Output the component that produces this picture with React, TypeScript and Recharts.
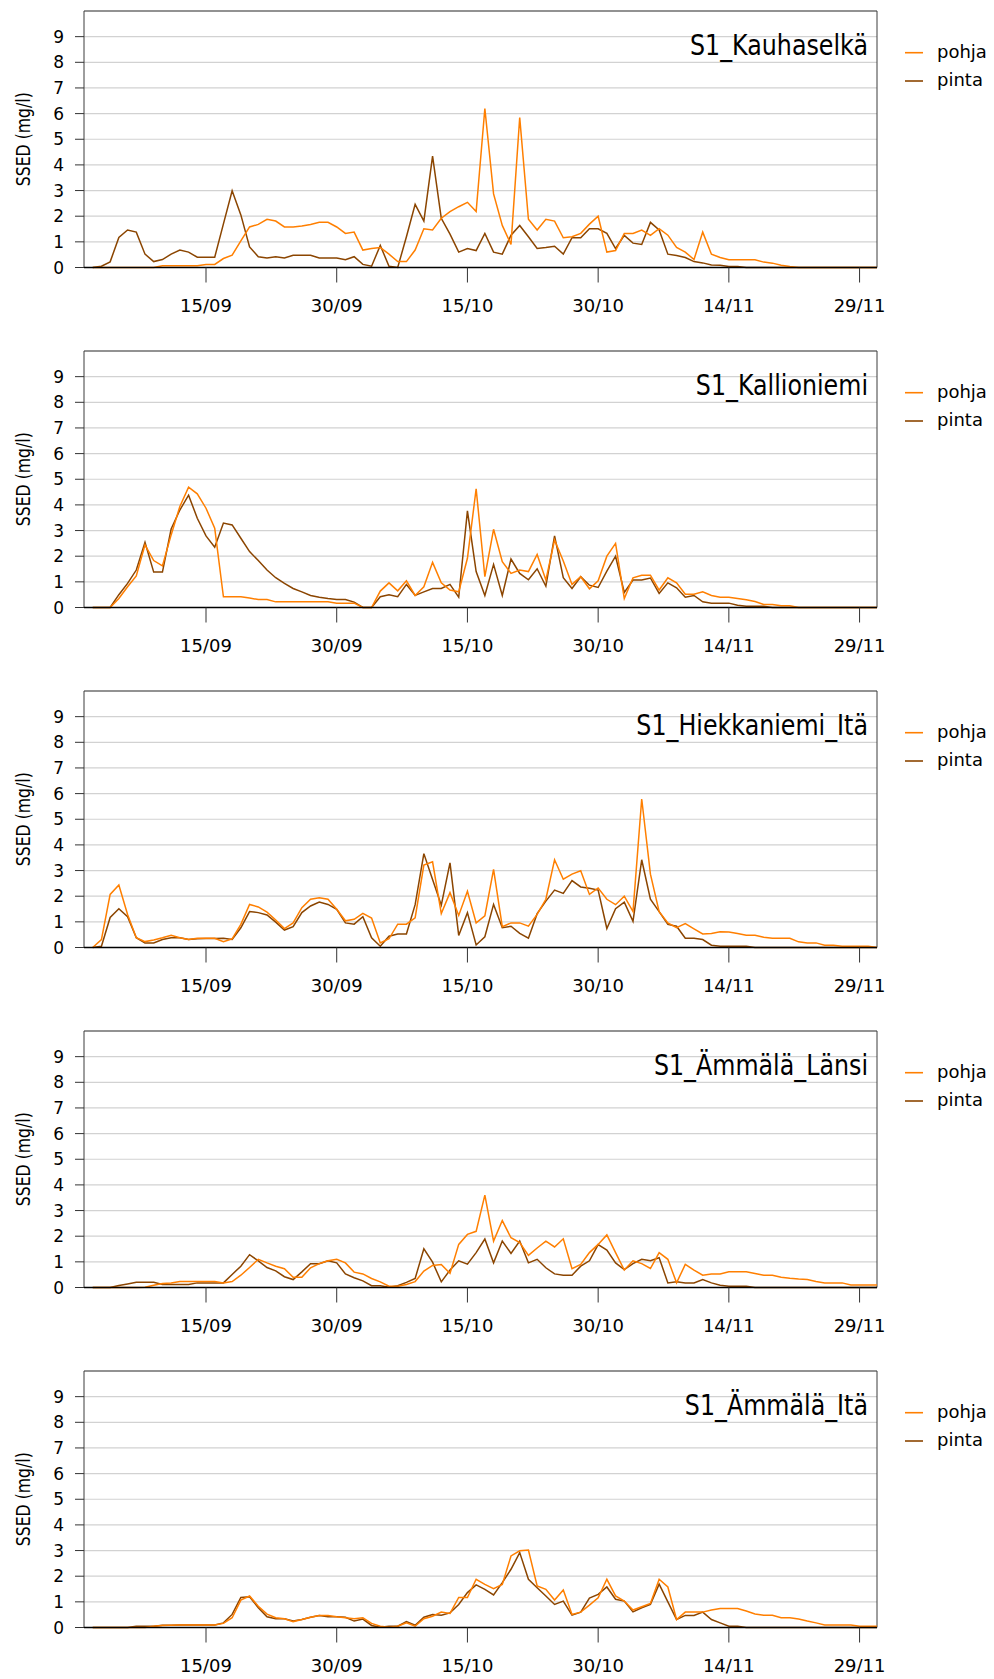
import { LineChart, Line, XAxis, YAxis, CartesianGrid, ReferenceArea, Legend } from 'recharts'

// x = päivä laskettuna 1.9. alkaen (1 = 2.9. ... 91 = 1.12.), yksi havainto per päivä
const days = Array.from({ length: 91 }, (_, i) => i + 1)
const tickDays = [14, 29, 44, 59, 74, 89]
const tickLabels = ['15/09', '30/09', '15/10', '30/10', '14/11', '29/11']
const yTicks = [0, 1, 2, 3, 4, 5, 6, 7, 8, 9]

const stations = ['S1_Kauhaselkä', 'S1_Kallioniemi', 'S1_Hiekkaniemi_Itä', 'S1_Ämmälä_Länsi', 'S1_Ämmälä_Itä']

const kauhaselkaPohja = [
  0, 0, 0, 0, 0, 0, 0, 0, 0.07, 0.07,
  0.07, 0.07, 0.07, 0.12, 0.12, 0.35, 0.48, 1.04, 1.58, 1.68,
  1.88, 1.81, 1.58, 1.58, 1.62, 1.68, 1.76, 1.76, 1.58, 1.33,
  1.38, 0.68, 0.74, 0.78, 0.52, 0.23, 0.23, 0.68, 1.51, 1.46,
  1.92, 2.18, 2.37, 2.54, 2.18, 6.2, 2.87, 1.64, 0.9, 5.85,
  1.88, 1.46, 1.88, 1.81, 1.16, 1.2, 1.33, 1.69, 2.0, 0.6,
  0.66, 1.33, 1.33, 1.46, 1.25, 1.51, 1.26, 0.78, 0.6, 0.31,
  1.38, 0.52, 0.39, 0.3, 0.3, 0.3, 0.3, 0.21, 0.17, 0.09,
  0.04, 0, 0, 0, 0, 0, 0, 0, 0, 0, 0,
]
const kauhaselkaPinta = [
  0, 0.05, 0.22, 1.17, 1.46, 1.38, 0.52, 0.23, 0.31, 0.52,
  0.68, 0.6, 0.4, 0.4, 0.4, 1.7, 2.99, 2.05, 0.8, 0.42,
  0.37, 0.42, 0.37, 0.48, 0.48, 0.48, 0.37, 0.37, 0.37, 0.3,
  0.42, 0.12, 0.05, 0.86, 0.05, 0, 1.2, 2.46, 1.81, 4.34,
  1.92, 1.3, 0.6, 0.74, 0.66, 1.33, 0.6, 0.52, 1.26, 1.64,
  1.2, 0.74, 0.78, 0.83, 0.52, 1.16, 1.16, 1.51, 1.51, 1.33,
  0.74, 1.25, 0.95, 0.9, 1.76, 1.46, 0.52, 0.47, 0.39, 0.23,
  0.18, 0.1, 0.09, 0.04, 0.04, 0, 0, 0, 0, 0,
  0, 0, 0, 0, 0, 0, 0, 0, 0, 0, 0,
]

const kallioniemiPohja = [
  0, 0, 0, 0.35, 0.81, 1.23, 2.44, 1.83, 1.62, 2.83,
  3.94, 4.69, 4.43, 3.87, 3.09, 0.42, 0.42, 0.42, 0.37, 0.31,
  0.31, 0.22, 0.22, 0.22, 0.22, 0.22, 0.22, 0.22, 0.17, 0.17,
  0.17, 0, 0, 0.64, 0.96, 0.65, 1.04, 0.47, 0.81, 1.76,
  0.96, 0.68, 0.61, 1.92, 4.63, 1.2, 3.05, 1.79, 1.33, 1.46,
  1.4, 2.07, 1.07, 2.63, 1.81, 0.9, 1.2, 0.73, 1.04, 2.0,
  2.5, 0.35, 1.16, 1.26, 1.26, 0.68, 1.16, 0.96, 0.52, 0.52,
  0.61, 0.47, 0.4, 0.4, 0.35, 0.3, 0.23, 0.12, 0.12, 0.07,
  0.07, 0, 0, 0, 0, 0, 0, 0, 0, 0, 0,
]
const kallioniemiPinta = [
  0, 0, 0, 0.5, 0.94, 1.46, 2.54, 1.38, 1.38, 3.06,
  3.8, 4.38, 3.48, 2.79, 2.35, 3.29, 3.22, 2.7, 2.18, 1.83,
  1.46, 1.16, 0.94, 0.74, 0.61, 0.47, 0.4, 0.35, 0.31, 0.31,
  0.21, 0, 0, 0.42, 0.5, 0.42, 0.9, 0.47, 0.61, 0.74,
  0.74, 0.9, 0.4, 3.77, 1.4, 0.47, 1.68, 0.47, 1.89, 1.33,
  1.08, 1.51, 0.83, 2.79, 1.16, 0.74, 1.2, 0.87, 0.78, 1.42,
  2.0, 0.59, 1.07, 1.07, 1.15, 0.55, 0.96, 0.77, 0.4, 0.47,
  0.22, 0.17, 0.17, 0.17, 0.09, 0.05, 0.05, 0.05, 0, 0,
  0, 0, 0, 0, 0, 0, 0, 0, 0, 0, 0,
]

const hiekkaniemiPohja = [
  0, 0.31, 2.07, 2.44, 1.29, 0.38, 0.23, 0.29, 0.38, 0.48,
  0.38, 0.31, 0.36, 0.36, 0.36, 0.23, 0.34, 0.9, 1.68, 1.58,
  1.38, 1.07, 0.74, 0.96, 1.55, 1.88, 1.94, 1.88, 1.49, 1.04,
  1.1, 1.33, 1.15, 0.18, 0.34, 0.91, 0.91, 1.16, 3.21, 3.34,
  1.32, 2.14, 1.25, 2.19, 0.96, 1.23, 3.05, 0.81, 0.96, 0.96,
  0.83, 1.29, 1.88, 3.42, 2.66, 2.86, 2.99, 2.07, 2.32, 1.88,
  1.67, 2.0, 1.4, 5.79, 2.86, 1.4, 0.96, 0.77, 0.93, 0.73,
  0.53, 0.55, 0.61, 0.6, 0.55, 0.48, 0.48, 0.4, 0.36, 0.36,
  0.36, 0.22, 0.18, 0.18, 0.09, 0.09, 0.05, 0.05, 0.05, 0.05, 0,
]
const hiekkaniemiPinta = [
  0, 0.05, 1.17, 1.51, 1.2, 0.38, 0.18, 0.18, 0.31, 0.38,
  0.38, 0.31, 0.34, 0.35, 0.35, 0.36, 0.31, 0.77, 1.4, 1.36,
  1.27, 0.99, 0.68, 0.81, 1.36, 1.62, 1.77, 1.68, 1.49, 0.96,
  0.91, 1.2, 0.38, 0.05, 0.44, 0.53, 0.53, 1.67, 3.66, 2.65,
  1.65, 3.3, 0.47, 1.36, 0.1, 0.42, 1.68, 0.77, 0.83, 0.55,
  0.36, 1.32, 1.81, 2.24, 2.11, 2.61, 2.36, 2.31, 2.24, 0.74,
  1.51, 1.77, 1.02, 3.42, 1.88, 1.4, 0.9, 0.83, 0.36, 0.36,
  0.31, 0.09, 0.05, 0.05, 0.05, 0.05, 0, 0, 0, 0,
  0, 0, 0, 0, 0, 0, 0, 0, 0, 0, 0,
]

const lansiPohja = [
  0, 0, 0, 0, 0, 0, 0.01, 0.09, 0.16, 0.18,
  0.23, 0.23, 0.23, 0.23, 0.23, 0.18, 0.23, 0.48, 0.78, 1.1,
  0.96, 0.83, 0.73, 0.4, 0.4, 0.77, 0.93, 1.04, 1.1, 0.96,
  0.6, 0.53, 0.35, 0.22, 0.05, 0.05, 0.12, 0.23, 0.64, 0.86,
  0.9, 0.55, 1.68, 2.07, 2.19, 3.6, 1.81, 2.61, 1.94, 1.75,
  1.25, 1.54, 1.81, 1.58, 1.9, 0.73, 0.9, 1.36, 1.68, 2.05,
  1.36, 0.68, 1.04, 0.93, 0.74, 1.36, 1.1, 0.18, 0.9, 0.68,
  0.48, 0.53, 0.53, 0.61, 0.61, 0.61, 0.55, 0.48, 0.48, 0.4,
  0.36, 0.33, 0.31, 0.23, 0.18, 0.18, 0.18, 0.1, 0.1, 0.1, 0.1,
]
const lansiPinta = [
  0, 0, 0, 0.08, 0.14, 0.2, 0.2, 0.2, 0.12, 0.12,
  0.12, 0.12, 0.18, 0.18, 0.18, 0.18, 0.51, 0.83, 1.28, 1.04,
  0.78, 0.65, 0.42, 0.31, 0.61, 0.93, 0.93, 1.04, 0.96, 0.53,
  0.38, 0.26, 0.07, 0.07, 0.01, 0.07, 0.2, 0.35, 1.51, 0.99,
  0.22, 0.68, 1.04, 0.91, 1.36, 1.89, 0.96, 1.81, 1.33, 1.81,
  0.96, 1.1, 0.77, 0.53, 0.48, 0.48, 0.83, 1.04, 1.67, 1.46,
  0.96, 0.7, 0.93, 1.1, 1.04, 1.16, 0.18, 0.22, 0.18, 0.18,
  0.31, 0.18, 0.09, 0.05, 0.05, 0.05, 0, 0, 0, 0,
  0, 0, 0, 0, 0, 0, 0, 0, 0, 0, 0,
]

const itaPohja = [
  0, 0, 0, 0, 0, 0, 0, 0.05, 0.08, 0.09,
  0.1, 0.1, 0.1, 0.1, 0.1, 0.16, 0.38, 1.07, 1.23, 0.83,
  0.52, 0.38, 0.34, 0.23, 0.31, 0.4, 0.47, 0.47, 0.42, 0.38,
  0.34, 0.38, 0.16, 0.05, 0.01, 0.05, 0.18, 0.05, 0.34, 0.44,
  0.6, 0.55, 1.17, 1.17, 1.88, 1.68, 1.51, 1.68, 2.79, 2.99,
  3.02, 1.62, 1.49, 1.07, 1.46, 0.51, 0.6, 0.87, 1.16, 1.88,
  1.23, 1.03, 0.68, 0.81, 0.94, 1.88, 1.58, 0.31, 0.6, 0.6,
  0.6, 0.68, 0.74, 0.74, 0.74, 0.64, 0.53, 0.48, 0.48, 0.38,
  0.38, 0.33, 0.25, 0.18, 0.1, 0.1, 0.1, 0.1, 0.05, 0.05, 0.05,
]
const itaPinta = [
  0, 0, 0, 0, 0, 0.05, 0.05, 0.05, 0.09, 0.09,
  0.1, 0.1, 0.1, 0.1, 0.1, 0.18, 0.51, 1.17, 1.2, 0.77,
  0.42, 0.34, 0.34, 0.25, 0.31, 0.4, 0.47, 0.42, 0.42, 0.4,
  0.25, 0.33, 0.08, 0.01, 0.05, 0.05, 0.23, 0.09, 0.4, 0.51,
  0.48, 0.57, 0.9, 1.36, 1.66, 1.49, 1.27, 1.75, 2.27, 2.92,
  1.88, 1.55, 1.23, 0.9, 1.03, 0.48, 0.6, 1.15, 1.29, 1.58,
  1.1, 1.03, 0.61, 0.77, 0.9, 1.69, 1.0, 0.31, 0.47, 0.47,
  0.6, 0.31, 0.18, 0.05, 0.05, 0, 0, 0, 0, 0,
  0, 0, 0, 0, 0, 0, 0, 0, 0, 0, 0,
]

const pohjaSeries = [kauhaselkaPohja, kallioniemiPohja, hiekkaniemiPohja, lansiPohja, itaPohja]
const pintaSeries = [kauhaselkaPinta, kallioniemiPinta, hiekkaniemiPinta, lansiPinta, itaPinta]
const legendOrder = ['pohja', 'pinta']

const POHJA = '#ff7f00'
const PINTA = '#8b4500'
const FONT = 'DejaVu Sans'

const rows = (pohja: number[], pinta: number[]) =>
  days.map((day, i) => ({ day, pohja: pohja[i], pinta: pinta[i] }))

const titleLabel = (title: string) => (props: any) => {
  const vb = props.viewBox || { x: 84, y: 11, width: 793 }
  const x = vb.x + vb.width - 9
  const y = vb.y + 43.5
  return (
    <text transform={`translate(${x} ${y}) scale(0.82 1)`} textAnchor="end" fontFamily={FONT} fontSize={29} fill="#000">
      {title}
    </text>
  )
}

const yLabel = (props: any) => {
  const vb = props.viewBox || { y: 11, height: 256.5 }
  const cx = 23
  const cy = vb.y + vb.height / 2
  return (
    <text
      x={cx}
      y={cy}
      transform={`rotate(-90 ${cx} ${cy})`}
      textAnchor="middle"
      dominantBaseline="central"
      fontFamily={FONT}
      fontSize={19}
      textLength={94}
      lengthAdjust="spacingAndGlyphs"
      fill="#000"
    >
      SSED (mg/l)
    </text>
  )
}

const legendBox = (props: any) => {
  const items = legendOrder
    .map(k => (props.payload || []).find((p: any) => p.dataKey === k))
    .filter(Boolean)
  return (
    <svg width={94} height={62}>
      {items.map((it: any, i: number) => (
        <g key={it.dataKey}>
          <line x1={5} x2={23} y1={16.7 + i * 28.3} y2={16.7 + i * 28.3} stroke={it.color} strokeWidth={1.6} />
          <text x={37} y={22 + i * 28.3} fontFamily={FONT} fontSize={18} fill="#000">
            {it.value}
          </text>
        </g>
      ))}
    </svg>
  )
}

function Panel({ index }: { index: number }) {
  const data = rows(pohjaSeries[index], pintaSeries[index])
  return (
    <div style={{ position: 'absolute', left: 0, top: index * 340, width: 994, height: 320 }}>
      <LineChart width={994} height={320} data={data} margin={{ top: 11, right: 117, bottom: 0, left: 24 }}>
        <CartesianGrid vertical={false} stroke="#d2d2d2" strokeWidth={1.2} />
        <ReferenceArea
          x1={0}
          x2={91}
          y1={0}
          y2={10}
          fill="none"
          fillOpacity={0}
          stroke="#3c3c3c"
          strokeWidth={1}
          label={titleLabel(stations[index])}
        />
        <XAxis
          type="number"
          dataKey="day"
          domain={[0, 91]}
          ticks={tickDays}
          interval={0}
          height={52.5}
          tickFormatter={(d: number) => tickLabels[tickDays.indexOf(d)]}
          tickSize={15}
          tickMargin={17}
          tick={{ fontSize: 18, fill: '#000', fontFamily: FONT }}
          tickLine={{ stroke: '#333' }}
          axisLine={{ stroke: '#000', strokeWidth: 1.5 }}
        />
        <YAxis
          type="number"
          domain={[0, 10]}
          ticks={yTicks}
          interval={0}
          width={60}
          tickSize={9}
          tickMargin={11}
          axisLine={false}
          tickLine={{ stroke: '#333' }}
          tick={{ fontSize: 17, fill: '#000', fontFamily: FONT }}
          label={yLabel}
        />
        <Legend
          layout="vertical"
          align="center"
          verticalAlign="middle"
          content={legendBox}
          wrapperStyle={{ position: 'absolute', left: 900, top: 36, width: 94, height: 62 }}
        />
        <Line type="linear" dataKey="pinta" name="pinta" stroke={PINTA} strokeWidth={1.5} dot={false} activeDot={false} isAnimationActive={false} />
        <Line type="linear" dataKey="pohja" name="pohja" stroke={POHJA} strokeWidth={1.5} dot={false} activeDot={false} isAnimationActive={false} />
      </LineChart>
    </div>
  )
}

export default function App() {
  return (
    <div style={{ position: 'absolute', left: 0, top: 0, width: 994, height: 1679, overflow: 'hidden', background: '#fff' }}>
      {stations.map((s, i) => (
        <Panel key={s} index={i} />
      ))}
    </div>
  )
}
